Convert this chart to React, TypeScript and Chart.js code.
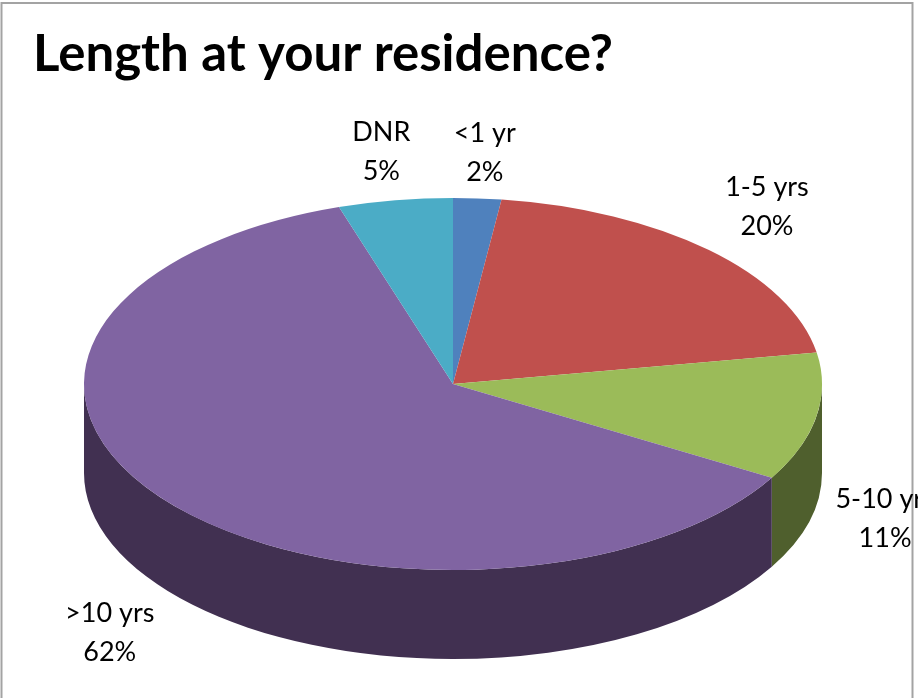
import React, { useEffect, useRef } from "react";
import { Chart, registerables } from "chart.js";

Chart.register(...registerables);

const titleText = "Length at your residence?";
const categories = ["<1 yr", "1-5 yrs", "5-10 yrs", ">10 yrs", "DNR"];
const shares = [2.1, 20.2, 11.1, 61.6, 5.0];
const faceColors = ["#4F81BD", "#C0504D", "#9BBB59", "#8064A2", "#4BACC6"];
const wallColors = ["#2B4A70", "#72302E", "#4F5F2D", "#413051", "#286D80"];

const FONT = "Lato, Carlito, 'Open Sans', sans-serif";
const CX = 453;
const CY = 384;
const RX = 369;
const RY = 186;
const DEPTH = 89;
// label centre, relative to the point of the rim at the slice's middle angle
const labelShift = [
  [7.5, -46],
  [58, -43],
  [69, 102],
  [-56, 132],
  [-14, -48],
];

const pie3d = {
  id: "pie3d",
  beforeDraw(chart: any) {
    const { ctx, width, height } = chart;
    ctx.save();
    ctx.strokeStyle = "#A3A3A3";
    ctx.lineWidth = 2;
    ctx.beginPath();
    ctx.moveTo(1.5, height + 4);
    ctx.lineTo(1.5, 3);
    ctx.lineTo(width - 5.5, 3);
    ctx.lineTo(width - 5.5, height + 4);
    ctx.stroke();
    ctx.restore();
  },
  beforeDatasetsDraw(chart: any) {
    const { ctx } = chart;
    const arcs = chart.getDatasetMeta(0).data;
    arcs.forEach((arc: any, i: number) => {
      const a = Math.max(arc.startAngle, 0);
      const b = Math.min(arc.endAngle, Math.PI);
      if (b <= a) return;
      ctx.beginPath();
      ctx.ellipse(CX, CY, RX, RY, 0, a, b);
      ctx.ellipse(CX, CY + DEPTH, RX, RY, 0, b, a, true);
      ctx.closePath();
      ctx.fillStyle = wallColors[i];
      ctx.fill();
    });
    ctx.save();
    const first = arcs[0];
    ctx.translate(CX, CY);
    ctx.scale(1, RY / first.outerRadius);
    ctx.translate(-first.x, -first.y);
  },
  afterDatasetsDraw(chart: any) {
    const { ctx } = chart;
    ctx.restore();
    const arcs = chart.getDatasetMeta(0).data;
    const total = shares.reduce((s, v) => s + v, 0);
    ctx.save();
    ctx.font = `27px ${FONT}`;
    ctx.fillStyle = "#000000";
    ctx.textAlign = "center";
    ctx.textBaseline = "middle";
    arcs.forEach((arc: any, i: number) => {
      const mid = (arc.startAngle + arc.endAngle) / 2;
      const x = CX + RX * Math.cos(mid) + labelShift[i][0];
      const y = CY + RY * Math.sin(mid) + labelShift[i][1];
      ctx.fillText(categories[i], x, y - 19.5);
      ctx.fillText(`${Math.round((shares[i] / total) * 100)}%`, x, y + 19.5);
    });
    ctx.restore();
  },
};

export default function App() {
  const ref = useRef<HTMLCanvasElement>(null);
  useEffect(() => {
    const chart = new Chart(ref.current as HTMLCanvasElement, {
      type: "pie",
      data: {
        labels: categories,
        datasets: [
          {
            data: shares,
            backgroundColor: faceColors,
            borderWidth: 0,
            radius: RX,
            clip: false,
          } as any,
        ],
      },
      options: {
        responsive: false,
        animation: false,
        layout: { padding: { left: 33 } },
        plugins: {
          legend: { display: false },
          tooltip: { enabled: false },
          title: {
            display: true,
            text: titleText,
            align: "start",
            color: "#000000",
            font: { family: FONT, size: 51, weight: "bold" },
            padding: { top: 24, bottom: 0 },
          },
        },
      },
      plugins: [pie3d],
    } as any);
    return () => chart.destroy();
  }, []);
  return (
    <div style={{ position: "absolute", left: 0, top: 0 }}>
      <canvas ref={ref} width={918} height={698} style={{ display: "block" }} />
    </div>
  );
}
